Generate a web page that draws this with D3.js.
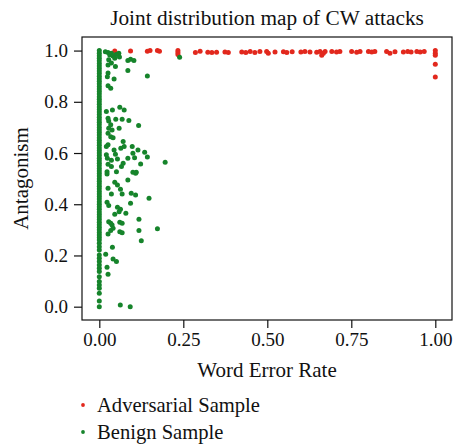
<!DOCTYPE html>
<html>
<head>
  <meta charset="UTF-8">
  <script src="https://d3js.org/d3.v7.min.js"></script>
  <style>
    body { margin: 0; background: #fff; }
    text { font-family: "Liberation Serif", "DejaVu Serif", serif; fill: #111; }
  </style>
</head>
<body>
<script>
  var width = 455, height = 445;
  var margin = {left: 82, top: 37, right: 3, bottom: 125};

  // adversarial samples (red)
  var advX = [0.046,0.093,0.143,0.151,0.173,0.179,0.234,0.234,0.234,0.286,0.300,0.323,0.335,0.349,0.374,0.384,
    0.424,0.436,0.449,0.463,0.478,0.498,0.503,0.523,0.548,0.558,0.574,0.600,0.612,0.627,0.647,0.657,0.662,0.667,
    0.672,0.692,0.706,0.716,0.751,0.766,0.776,0.801,0.811,0.820,0.855,0.865,0.880,0.905,0.918,0.928,0.945,0.955,
    0.967,1.0,1.0,1.0,1.0,1.0];
  var advY = [0.998,0.998,0.997,1.0,1.0,0.997,1.0,0.992,0.985,0.992,0.997,0.993,0.992,0.993,0.994,0.992,
    0.994,0.992,0.996,0.992,0.996,0.996,0.99,0.994,0.995,0.992,0.995,0.994,0.996,0.994,0.993,0.996,0.982,0.99,
    0.996,0.996,0.994,0.996,0.996,0.993,0.996,0.996,0.994,0.996,0.996,0.99,0.995,0.994,0.996,0.994,0.996,0.994,
    0.996,1.0,0.99,0.982,0.947,0.897];

  // benign samples at WER = 0 (the dense column)
  var benignColY = [0.0,0.022,0.052,0.072,0.085,0.098,0.117,0.137,0.15,0.163,0.176,0.189,0.202,0.221,0.234,0.248,
    0.26,0.27,0.28,0.29,0.30,0.31,0.32,0.33,0.34,0.35,0.36,0.37,0.38,0.39,0.40,0.41,0.42,0.43,0.44,0.45,
    0.46,0.47,0.48,0.49,0.50,0.51,0.52,0.53,0.54,0.55,0.56,0.57,0.58,0.59,0.60,0.61,0.62,0.63,0.64,0.65,
    0.66,0.67,0.68,0.69,0.70,0.71,0.72,0.73,0.74,0.75,0.76,0.77,0.78,0.79,0.80,0.81,0.82,0.83,0.84,0.85,
    0.86,0.87,0.88,0.89,0.90,0.91,0.92,0.93,0.94,0.95,0.96,0.97,0.98,0.99,1.0];

  // benign samples with WER > 0
  var benignX = [0.026,0.031,0.036,0.041,0.046,0.028,0.036,0.026,0.048,0.085,0.093,0.103,0.085,0.143,0.239,0.026,
    0.024,0.044,0.026,0.034,0.058,0.050,0.060,0.018,
    0.061,0.074,0.039,0.021,0.026,0.028,0.049,0.068,0.088,0.117,0.034,0.028,0.038,0.059,0.026,0.034,0.041,0.071,
    0.026,0.021,0.064,0.074,0.098,0.115,0.135,0.143,0.196,0.044,0.048,0.054,0.021,0.024,0.036,0.085,0.100,0.105,
    0.123,0.071,0.066,0.026,0.036,0.100,0.110,
    0.023,0.023,0.051,0.108,0.085,0.046,0.054,0.026,0.036,0.063,0.068,0.095,0.108,0.148,0.093,0.023,0.028,0.054,
    0.063,0.059,0.046,0.079,0.028,0.034,0.038,0.061,0.068,0.118,0.041,0.034,0.026,0.061,0.068,0.118,0.173,0.125,
    0.039,0.019,0.041,0.051,0.023,0.026,0.0625,0.092];
  var benignY = [0.992,0.983,0.99,0.979,0.97,0.964,0.951,0.944,0.938,0.961,0.966,0.961,0.922,0.901,0.974,0.912,
    0.898,0.889,0.863,0.853,0.99,0.985,0.975,0.995,
    0.779,0.768,0.768,0.762,0.736,0.725,0.732,0.732,0.727,0.707,0.71,0.697,0.69,0.697,0.677,0.664,0.66,0.645,
    0.632,0.625,0.619,0.625,0.625,0.612,0.603,0.584,0.564,0.612,0.595,0.577,0.593,0.58,0.572,0.58,0.599,0.582,
    0.557,0.56,0.547,0.556,0.547,0.525,0.525,
    0.527,0.518,0.527,0.521,0.495,0.486,0.475,0.462,0.44,0.459,0.44,0.443,0.436,0.423,0.404,0.408,0.395,0.388,
    0.38,0.371,0.361,0.365,0.332,0.326,0.319,0.33,0.326,0.341,0.306,0.297,0.284,0.293,0.289,0.297,0.304,0.257,
    0.232,0.205,0.186,0.176,0.154,0.127,0.007,0.0];

  var xTicks = [0, 0.25, 0.5, 0.75, 1.0];
  var yTicks = [0, 0.2, 0.4, 0.6, 0.8, 1.0];
  var legendLabels = ["Adversarial Sample", "Benign Sample"];
  var colors = ["#e2281d", "#16842b"];

  var svg = d3.select('body').append('svg').attr('width', width).attr('height', height);
  var pw = width - margin.left - margin.right, ph = height - margin.top - margin.bottom;

  var x = d3.scaleLinear().domain([-0.0515, 1.0497]).range([margin.left, margin.left + pw]);
  var y = d3.scaleLinear().domain([-0.052, 1.053]).range([margin.top + ph, margin.top]);

  var benign = benignColY.map(function(v) { return {x: 0, y: v}; })
    .concat(benignX.map(function(v, i) { return {x: v, y: benignY[i]}; }));
  var adv = advX.map(function(v, i) { return {x: v, y: advY[i]}; });

  svg.append('g').selectAll('circle').data(adv).join('circle')
    .attr('cx', function(d) { return x(d.x); })
    .attr('cy', function(d) { return y(d.y); })
    .attr('r', 2.5).attr('fill', colors[0]);

  svg.append('g').selectAll('circle').data(benign).join('circle')
    .attr('cx', function(d) { return x(d.x); })
    .attr('cy', function(d) { return y(d.y); })
    .attr('r', 2.5).attr('fill', colors[1]);

  // frame
  svg.append('rect').attr('x', margin.left).attr('y', margin.top).attr('width', pw).attr('height', ph)
    .attr('fill', 'none').attr('stroke', '#111').attr('stroke-width', 1.2);

  var xAxis = svg.append('g').attr('transform', 'translate(0,' + (margin.top + ph) + ')')
    .call(d3.axisBottom(x).tickValues(xTicks).tickFormat(d3.format('.2f')).tickSize(8).tickPadding(5).tickSizeOuter(0));
  var yAxis = svg.append('g').attr('transform', 'translate(' + margin.left + ',0)')
    .call(d3.axisLeft(y).tickValues(yTicks).tickFormat(d3.format('.1f')).tickSize(8).tickPadding(6).tickSizeOuter(0));
  [xAxis, yAxis].forEach(function(a) {
    a.select('.domain').remove();
    a.selectAll('line').attr('stroke', '#111').attr('stroke-width', 1.2);
    a.selectAll('text').style('font-family', '"Liberation Serif", serif').style('font-size', '19px').attr('fill', '#111');
  });

  svg.append('text').attr('x', margin.left + pw / 2).attr('y', 25).attr('text-anchor', 'middle')
    .style('font-size', '21.3px').text('Joint distribution map of CW attacks');
  svg.append('text').attr('x', margin.left + pw / 2).attr('y', 377).attr('text-anchor', 'middle')
    .style('font-size', '21px').text('Word Error Rate');
  svg.append('text').attr('transform', 'translate(28,' + (margin.top + ph / 2) + ') rotate(-90)')
    .attr('text-anchor', 'middle').style('font-size', '21px').text('Antagonism');

  // legend
  var leg = svg.append('g').selectAll('g').data(legendLabels).join('g')
    .attr('transform', function(d, i) { return 'translate(83,' + (405 + i * 27) + ')'; });
  leg.append('circle').attr('r', 1.9).attr('fill', function(d, i) { return colors[i]; });
  leg.append('text').attr('x', 14).attr('y', 7).style('font-size', '20.6px').text(function(d) { return d; });
</script>
</body>
</html>
